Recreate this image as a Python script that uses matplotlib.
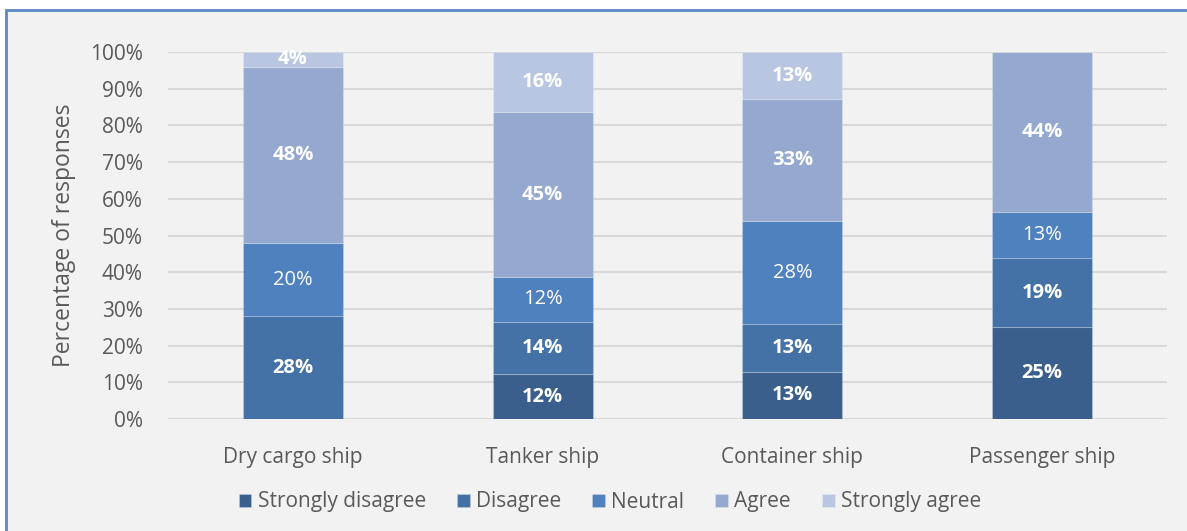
import numpy as np
import matplotlib.pyplot as plt
from matplotlib.patches import Rectangle

ships = ["Dry cargo ship", "Tanker ship", "Container ship", "Passenger ship"]
levels = ["Strongly disagree", "Disagree", "Neutral", "Agree", "Strongly agree"]
strongly_disagree = [0, 12.2, 12.9, 25.0]
disagree = [28.0, 14.3, 12.9, 18.75]
neutral = [20.0, 12.2, 28.1, 12.6]
agree = [48.0, 44.9, 33.2, 43.65]
strongly_agree = [4.0, 16.4, 12.9, 0]

colors = ["#3A5F8D", "#4472A6", "#4E81BD", "#95A9D0", "#B9C6E1"]
bold = [True, True, False, True, True]

plt.rcParams['font.family'] = ['Open Sans', 'DejaVu Sans']

fig = plt.figure(figsize=(11.87, 5.31), dpi=100)
fig.patch.set_facecolor("white")
bg = Rectangle((6 / 1187, -0.1), 1.1, 1.1 - 10 / 531, transform=fig.transFigure,
               facecolor="#F2F2F2", edgecolor="#5B87C5", linewidth=2, zorder=-10)
fig.patches.append(bg)

ax = fig.add_axes([168 / 1187, 1 - 419 / 531, (1167 - 168) / 1187, (419 - 52) / 531])
ax.set_facecolor("#F2F2F2")

x = np.arange(len(ships))
series = [strongly_disagree, disagree, neutral, agree, strongly_agree]
bottom = np.zeros(len(ships))
for vals, name, c, b in zip(series, levels, colors, bold):
    vals = np.array(vals)
    ax.bar(x, vals, 0.4, bottom=bottom, color=c, label=name,
           edgecolor=(1, 1, 1, 0.2), linewidth=0.8, zorder=3)
    for xi, v, b0 in zip(x, vals, bottom):
        if v > 0:
            ax.text(xi, b0 + v / 2, f"{int(v + 0.5)}%", ha="center", va="center",
                    color="white", fontsize=14.5, fontweight="bold" if b else "normal", zorder=4)
    bottom += vals

ax.set_xlim(-0.5, 3.5)
ax.set_ylim(0, 100)
ax.set_yticks(np.arange(0, 101, 10))
ax.set_yticklabels([f"{t}%" for t in range(0, 101, 10)])
ax.set_xticks(x)
ax.set_xticklabels(ships)
ax.tick_params(axis="both", length=0, labelsize=15, labelcolor="#595959")
ax.tick_params(axis="x", pad=20)
ax.tick_params(axis="y", pad=18)
ax.grid(axis="y", color="#D9D9D9", linewidth=1.5, zorder=0)
ax.set_axisbelow(True)
for s in ax.spines.values():
    s.set_visible(False)
ax.set_ylabel("Percentage of responses", fontsize=16.5, color="#595959", labelpad=10)

ax.legend(loc="center", bbox_to_anchor=(610 / 1187, 1 - 502 / 531), bbox_transform=fig.transFigure,
          ncol=5, frameon=False, fontsize=15, labelcolor="#595959",
          handlelength=0.6, handleheight=0.6, handletextpad=0.3, columnspacing=1.5)

fig.savefig("out.png", dpi=100, facecolor=fig.get_facecolor())
